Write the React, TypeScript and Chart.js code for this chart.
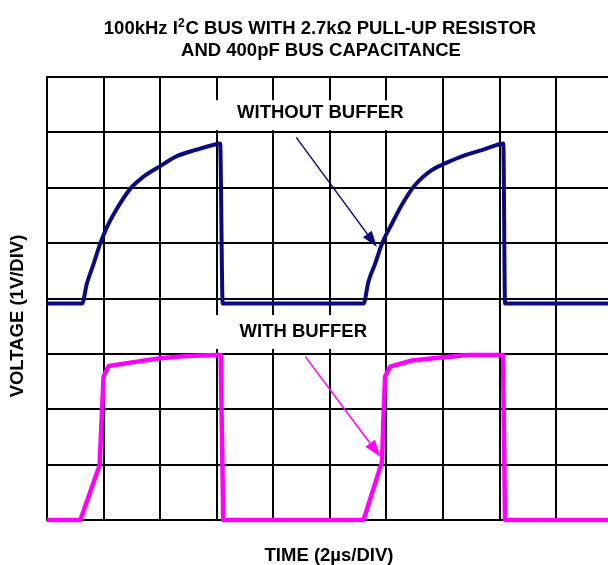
import React, { useEffect, useRef } from "react";
import { Chart, registerables } from "chart.js";

Chart.register(...registerables);

// ---- Text ----
const TITLE_LINE_1_PRE = "100kHz I";
const TITLE_LINE_1_SUP = "2";
const TITLE_LINE_1_POST = "C BUS WITH 2.7kΩ PULL-UP RESISTOR";
const TITLE_LINE_2 = "AND 400pF BUS CAPACITANCE";
const X_TITLE = "TIME (2µs/DIV)";
const Y_TITLE = "VOLTAGE (1V/DIV)";
const LABEL_WITHOUT = "WITHOUT BUFFER";
const LABEL_WITH = "WITH BUFFER";

// ---- Axes (x in µs, y in divisions of 1V) ----
const X_MIN = 0;
const X_MAX = 19.83;
const X_STEP = 2;
const Y_MIN = 0;
const Y_MAX = 8;
const Y_STEP = 1;

// ground level (in divisions) of each channel
const WITHOUT_BUFFER_GROUND = 4;
const WITH_BUFFER_GROUND = 0;

// ---- Data: without buffer (µs, V) ----
const withoutBufferTime = [
  0, 1.24, 1.41, 1.65, 1.88, 2.12, 2.47, 2.94, 3.41, 4.0, 4.59, 5.3, 6.01, 6.12, 6.21,
  11.19, 11.36, 11.6, 11.84, 12.19, 12.54, 13.01, 13.6, 14.07, 14.78, 15.37, 16.02, 16.13, 16.19, 19.83,
];
const withoutBufferVolts = [
  -0.09, -0.09, 0.27, 0.63, 0.99, 1.29, 1.62, 1.98, 2.2, 2.39, 2.57, 2.69, 2.79, 2.8, -0.09,
  -0.09, 0.3, 0.63, 0.99, 1.35, 1.69, 2.05, 2.32, 2.44, 2.59, 2.68, 2.79, 2.8, -0.09, -0.09,
];

// ---- Data: with buffer (µs, V) ----
const withBufferTime = [
  0, 1.18, 1.86, 1.93, 2.0, 2.18, 3.18, 4.0, 4.95, 6.01, 6.14, 6.23,
  11.19, 11.84, 11.89, 11.95, 12.13, 12.9, 14.01, 14.9, 16.02, 16.12, 16.19, 19.83,
];
const withBufferVolts = [
  0, 0, 0.99, 1.8, 2.59, 2.78, 2.86, 2.92, 2.96, 2.98, 2.98, 0,
  0, 1.05, 1.8, 2.59, 2.77, 2.88, 2.94, 2.98, 2.98, 2.98, 0, 0,
];

const BLUE = "#0b0b80";
const MAGENTA = "#ff00ff";
const FONT_FAMILY = '"Liberation Sans", Arial, Helvetica, sans-serif';
const FONT = `bold 18.5px ${FONT_FAMILY}`;

function toPoints(t: number[], v: number[], ground: number) {
  return t.map((x, i) => ({ x, y: v[i] + ground }));
}

const overlayPlugin = {
  id: "scopeOverlay",
  beforeDatasetsDraw(chart: any) {
    const { ctx, scales } = chart;
    const x = scales.x;
    const y = scales.y;
    ctx.save();
    ctx.fillStyle = "#ffffff";
    const boxes = [
      { x0: 5.78, x1: 12.31, y0: 7.58, y1: 7.04 },
      { x0: 5.78, x1: 11.6, y0: 3.7, y1: 3.09 },
    ];
    for (const b of boxes) {
      const px0 = x.getPixelForValue(b.x0);
      const px1 = x.getPixelForValue(b.x1);
      const py0 = y.getPixelForValue(b.y0);
      const py1 = y.getPixelForValue(b.y1);
      ctx.fillRect(px0, py0, px1 - px0, py1 - py0);
    }
    ctx.fillStyle = "#000000";
    ctx.font = FONT;
    ctx.textAlign = "center";
    ctx.textBaseline = "middle";
    ctx.fillText(LABEL_WITHOUT, x.getPixelForValue(9.66), y.getPixelForValue(7.35));
    ctx.fillText(LABEL_WITH, x.getPixelForValue(9.06), y.getPixelForValue(3.4));
    ctx.restore();
  },
  afterDatasetsDraw(chart: any) {
    const { ctx, scales } = chart;
    const x = scales.x;
    const y = scales.y;
    const arrows = [
      { from: [8.81, 6.91], to: [11.66, 4.93], color: BLUE, len: 16, half: 5.5 },
      { from: [9.13, 2.95], to: [11.78, 1.14], color: MAGENTA, len: 17, half: 6 },
    ];
    ctx.save();
    for (const a of arrows) {
      const sx = x.getPixelForValue(a.from[0]);
      const sy = y.getPixelForValue(a.from[1]);
      const ex = x.getPixelForValue(a.to[0]);
      const ey = y.getPixelForValue(a.to[1]);
      const ang = Math.atan2(ey - sy, ex - sx);
      const bx = ex - a.len * Math.cos(ang);
      const by = ey - a.len * Math.sin(ang);
      ctx.strokeStyle = a.color;
      ctx.fillStyle = a.color;
      ctx.lineWidth = 1.5;
      ctx.beginPath();
      ctx.moveTo(sx, sy);
      ctx.lineTo(bx, by);
      ctx.stroke();
      ctx.beginPath();
      ctx.moveTo(ex, ey);
      ctx.lineTo(bx + a.half * Math.sin(ang), by - a.half * Math.cos(ang));
      ctx.lineTo(bx - a.half * Math.sin(ang), by + a.half * Math.cos(ang));
      ctx.closePath();
      ctx.fill();
    }
    ctx.restore();
  },
  afterDraw(chart: any) {
    const { ctx } = chart;
    ctx.save();
    ctx.fillStyle = "#000000";
    ctx.textBaseline = "alphabetic";
    ctx.font = FONT;
    const supFont = `bold 12px ${FONT_FAMILY}`;
    const wPre = ctx.measureText(TITLE_LINE_1_PRE).width;
    const wPost = ctx.measureText(TITLE_LINE_1_POST).width;
    ctx.font = supFont;
    const wSup = ctx.measureText(TITLE_LINE_1_SUP).width;
    const total = wPre + wSup + 1 + wPost;
    let cx = 320 - total / 2;
    const base1 = 34;
    ctx.textAlign = "left";
    ctx.font = FONT;
    ctx.fillText(TITLE_LINE_1_PRE, cx, base1);
    cx += wPre;
    ctx.font = supFont;
    ctx.fillText(TITLE_LINE_1_SUP, cx, base1 - 7);
    cx += wSup + 1;
    ctx.font = FONT;
    ctx.fillText(TITLE_LINE_1_POST, cx, base1);
    ctx.textAlign = "center";
    ctx.fillText(TITLE_LINE_2, 321, 56);
    ctx.fillText(X_TITLE, 329, 561);
    ctx.translate(18, 316);
    ctx.rotate(-Math.PI / 2);
    ctx.textBaseline = "middle";
    ctx.fillText(Y_TITLE, 0, 0);
    ctx.restore();
  },
};

export default function App() {
  const canvasRef = useRef<HTMLCanvasElement | null>(null);

  useEffect(() => {
    const canvas = canvasRef.current;
    if (!canvas) return;
    const gridOpts = { color: "#000000", lineWidth: 2, drawTicks: false };
    const borderOpts = { display: true, color: "#000000", width: 2 };
    const chart = new Chart(canvas, {
      type: "line",
      data: {
        datasets: [
          {
            label: LABEL_WITHOUT,
            data: toPoints(withoutBufferTime, withoutBufferVolts, WITHOUT_BUFFER_GROUND),
            borderColor: BLUE,
            borderWidth: 4,
            pointRadius: 0,
            cubicInterpolationMode: "monotone",
            borderJoinStyle: "round",
            clip: false,
          } as any,
          {
            label: LABEL_WITH,
            data: toPoints(withBufferTime, withBufferVolts, WITH_BUFFER_GROUND),
            borderColor: MAGENTA,
            borderWidth: 4.5,
            pointRadius: 0,
            tension: 0,
            borderJoinStyle: "round",
            clip: false,
          } as any,
        ],
      },
      options: {
        animation: false,
        responsive: false,
        maintainAspectRatio: false,
        events: [],
        layout: { padding: { left: 47, top: 77, right: 0, bottom: 45 } },
        plugins: {
          legend: { display: false },
          tooltip: { enabled: false },
          title: { display: false },
        },
        scales: {
          x: {
            type: "linear",
            min: X_MIN,
            max: X_MAX,
            ticks: { display: false, stepSize: X_STEP, includeBounds: false } as any,
            grid: gridOpts,
            border: borderOpts,
          },
          y: {
            type: "linear",
            min: Y_MIN,
            max: Y_MAX,
            ticks: { display: false, stepSize: Y_STEP },
            grid: gridOpts,
            border: borderOpts,
          },
        },
      },
      plugins: [overlayPlugin],
    });
    return () => chart.destroy();
  }, []);

  return (
    <div style={{ position: "absolute", left: 0, top: 0, width: 608, height: 565, background: "#ffffff" }}>
      <canvas ref={canvasRef} width={608} height={565} style={{ display: "block", width: 608, height: 565 }} />
    </div>
  );
}
